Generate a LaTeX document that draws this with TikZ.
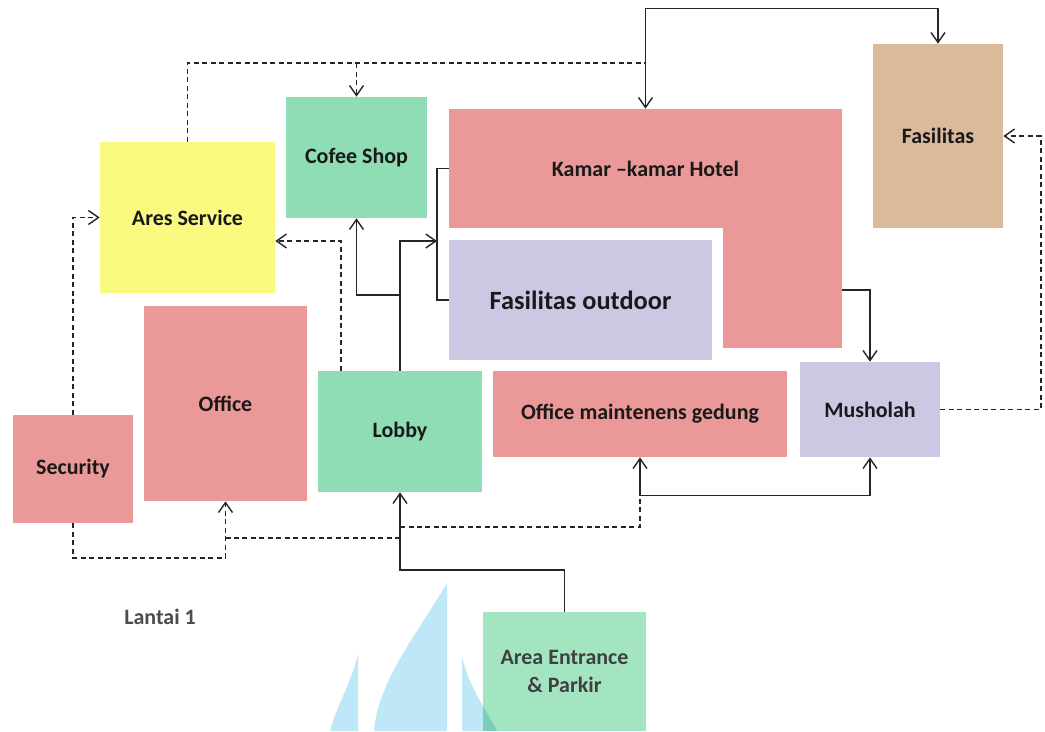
\documentclass[tikz,border=0pt]{standalone}
\usepackage{fontspec}
\setmainfont{Carlito}
\usetikzlibrary{arrows.meta}

\definecolor{roze}{RGB}{234,152,152}
\definecolor{kuning}{RGB}{250,249,128}
\definecolor{hijau}{RGB}{142,221,180}
\definecolor{hijaumuda}{RGB}{164,229,193}
\definecolor{ungu}{RGB}{206,199,228}
\definecolor{coklat}{RGB}{219,186,156}
\definecolor{birumuda}{RGB}{190,231,247}

\begin{document}
\begin{tikzpicture}
      [%%%%%%%%%%%%%%%%%%%%%%%%%%%%%%
      x=0.02cm, y=-0.02cm,
      box/.style={rectangle, inner sep=0pt, align=center, text=black!90,
        font=\bfseries\fontsize{12.5}{15}\selectfont},
      conn/.style={draw=black!85, line width=0.8pt},
      dconn/.style={conn, dash pattern=on 1mm off 0.7mm},
      >={Straight Barb[length=2mm,width=2.8mm]},
      ]%%%%%%%%%%%%%%%%%%%%%%%%%%%%%%
      \useasboundingbox[fill=white] (0,0) rectangle (1045,731);

      % ruang-ruang
      \node[box,fill=kuning,minimum width=3.5cm,minimum height=3.02cm] (ares) at (187.5,217.5) {Ares Service};
      \node[box,fill=hijau,minimum width=2.82cm,minimum height=2.42cm] (cofee) at (356.5,157.5) {Cofee Shop};
      \node[box,fill=roze,minimum width=2.38cm,minimum height=2.44cm] (kamarleg) at (782.5,287) {};
      \node[box,fill=roze,minimum width=7.86cm,minimum height=2.38cm] (kamar) at (645.5,168.5) {Kamar --kamar Hotel};
      \node[box,fill=ungu,minimum width=5.26cm,minimum height=2.4cm,font=\bfseries\fontsize{15}{18}\selectfont] (outdoor) at (580.5,300) {Fasilitas outdoor};
      \node[box,fill=coklat,minimum width=2.6cm,minimum height=3.68cm] (fasilitas) at (938,136) {Fasilitas};
      \node[box,fill=roze,minimum width=3.26cm,minimum height=3.9cm] (office) at (225.5,403.5) {Office};
      \node[box,fill=roze,minimum width=2.4cm,minimum height=2.16cm] (security) at (73,469) {Security};
      \node[box,fill=hijau,minimum width=3.28cm,minimum height=2.42cm] (lobby) at (400,431.5) {Lobby};
      \node[box,fill=roze,minimum width=5.88cm,minimum height=1.72cm] (maint) at (640,414) {Office maintenens gedung};
      \node[box,fill=ungu,minimum width=2.8cm,minimum height=1.9cm] (musholah) at (870,409.5) {Musholah};
      \node[box,fill=hijaumuda,minimum width=3.26cm,minimum height=2.38cm,text=black!75] (area) at (564.5,671.5) {Area Entrance\\[1pt]\& Parkir};
      \node[box,text=black!70] (lantai) at (160,617) {Lantai 1};

      % watermark
      \begin{scope}[blend mode=multiply]
        \fill[birumuda] (447,583) .. controls (420,630) and (378,680) .. (374,731) -- (447,731) -- cycle;
        \fill[birumuda] (358,655) .. controls (350,685) and (335,710) .. (330,731) -- (358,731) -- cycle;
        \fill[birumuda] (462,657) .. controls (470,690) and (488,712) .. (497,731) -- (462,731) -- cycle;
      \end{scope}

      % alur
      \coordinate (atas) at (kamar.north |- 0,63);
      \draw[conn,<->] (kamar.north) -- ++(0,-100) -| (fasilitas.north);
      \draw[dconn] (ares.north) |- (atas);
      \draw[dconn,->] (cofee.north |- atas) -- (cofee.north);
      \draw[dconn,->] (security.north) |- (ares.west);
      \draw[dconn,->] (lobby.north -| 341,0) |- (ares.east |- 0,241);
      \coordinate (kurung) at (437,241);
      \draw[conn,->] (lobby.north) |- (kurung);
      \draw[conn] (kamar.west) -| (kurung |- outdoor.west) -- (outdoor.west);
      \draw[conn,->] (lobby.north |- 0,295) -| (cofee.south);
      \draw[conn,->] (kamarleg.east |- 0,290) -| (musholah.north);
      \draw[dconn,->] (musholah.east) -| (1041,136) -- (fasilitas.east);
      \draw[conn,->] (area.north) |- (lobby.south |- 0,570) -- (lobby.south);
      \draw[dconn,->] (security.south) |- (office.south |- 0,558) -- (office.south);
      \draw[dconn] (office.south |- 0,538) -- (lobby.south |- 0,538);
      \draw[dconn] (lobby.south |- 0,527) -| (maint.south |- 0,495);
      \draw[conn,<->] (maint.south) -- ++(0,38) -| (musholah.south);
    \end{tikzpicture}
\end{document}
